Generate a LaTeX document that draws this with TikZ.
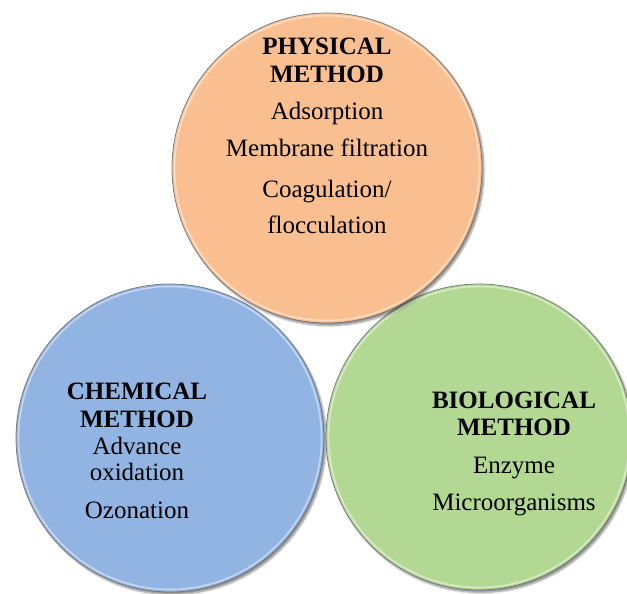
\documentclass[tikz,border=0pt]{standalone}
\usepackage{fontspec}
\setmainfont{Liberation Serif}
\usetikzlibrary{shadows.blur}
\definecolor{orangefill}{RGB}{250,191,145}
\definecolor{bluefill}{RGB}{146,180,226}
\definecolor{greenfill}{RGB}{178,216,148}
\tikzset{
  disc/.style={circle, inner sep=0pt, minimum size=#1, draw=black!55, line width=0.7pt,
    blur shadow={shadow xshift=2pt, shadow yshift=-2.5pt, shadow blur steps=6, shadow opacity=45}},
  rim/.style={circle, inner sep=0pt, minimum size=#1, draw=white, draw opacity=0.45, line width=1.6pt},
  head/.style={anchor=base, font=\fontsize{25}{25}\selectfont\bfseries, inner sep=0pt},
  body/.style={anchor=base, font=\fontsize{25}{25}\selectfont, inner sep=0pt}
}
\begin{document}
\begin{tikzpicture}[x=1pt,y=-1pt]
\useasboundingbox (0,0) rectangle (627,594);
% blue
\node[disc=308pt, fill=bluefill] (cb) at (170,438) {};
\node[rim=303pt] (cbr) at (cb.center) {};
% green
\node[disc=306pt, fill=greenfill] (cg) at (479,437) {};
\node[rim=301pt] (cgr) at (cg.center) {};
% orange
\node[disc=310pt, fill=orangefill] (co) at (327,168) {};
\node[rim=305pt] (cor) at (co.center) {};
% orange text
\node[head] (p1) at (327,55) {PHYSICAL};
\node[head] (p2) at (327,83) {METHOD};
\node[body] (p3) at (327,120) {Adsorption};
\node[body] (p4) at (327,157) {Membrane filtration};
\node[body] (p5) at (327,197) {Coagulation/};
\node[body] (p6) at (327,233) {flocculation};
% blue text
\node[head] (c1) at (137,399) {CHEMICAL};
\node[head] (c2) at (137,427) {METHOD};
\node[body] (c3) at (137,454) {Advance};
\node[body] (c4) at (137,480) {oxidation};
\node[body] (c5) at (137,518) {Ozonation};
% green text
\node[head] (b1) at (514,408) {BIOLOGICAL};
\node[head] (b2) at (514,435) {METHOD};
\node[body] (b3) at (514,473) {Enzyme};
\node[body] (b4) at (514,510) {Microorganisms};
\end{tikzpicture}
\end{document}
